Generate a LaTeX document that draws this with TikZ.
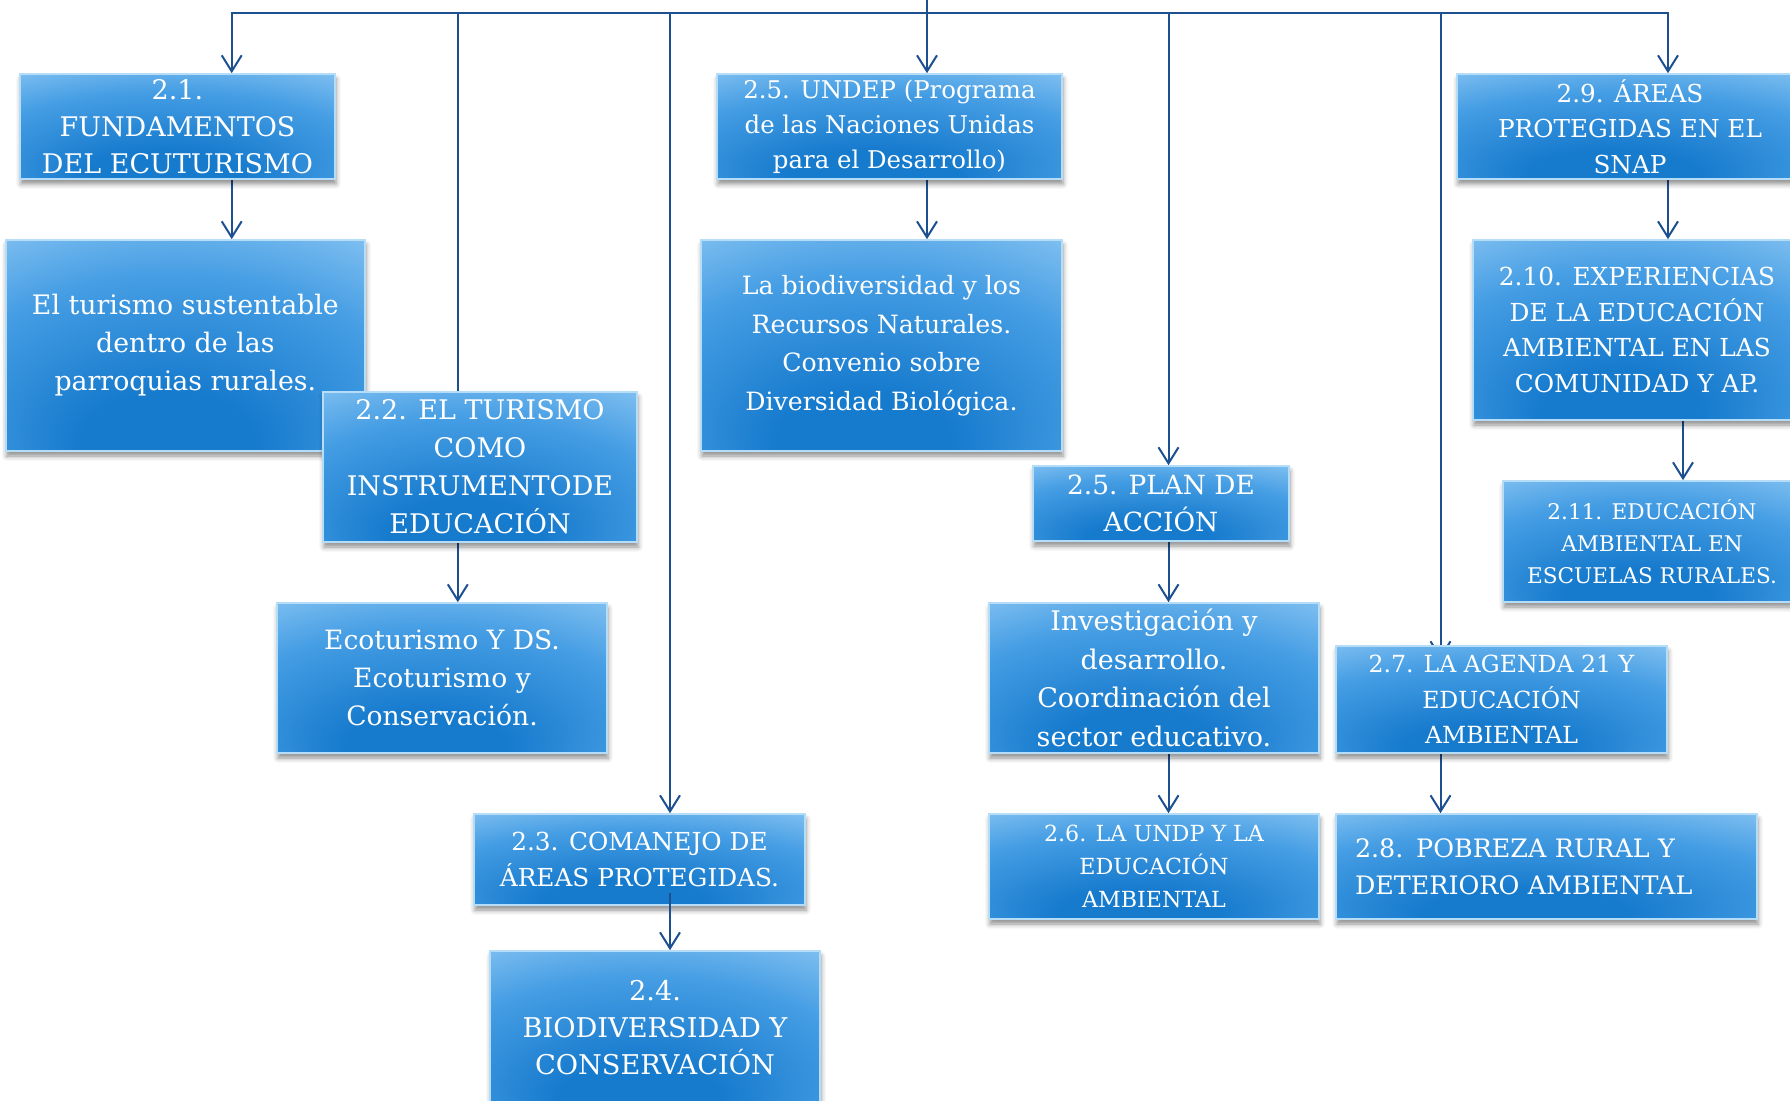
\documentclass[tikz,border=0pt]{standalone}
\usepackage{fontspec}
\setmainfont{DejaVu Serif}
\usetikzlibrary{arrows.meta,shadows.blur,patterns}

\definecolor{bdark}{RGB}{22,122,205}
\definecolor{bmid}{RGB}{70,158,228}
\definecolor{blight}{RGB}{158,209,247}
\definecolor{bedge}{RGB}{182,221,248}
\definecolor{lineblue}{RGB}{28,80,145}
\definecolor{bgcol}{RGB}{250,250,250}
\definecolor{wavecol}{RGB}{234,234,234}

\pgfdeclareradialshading{boxshade}{\pgfpoint{-3bp}{-28bp}}{%
  color(0bp)=(bdark); color(12bp)=(bdark); color(32bp)=(bmid);
  color(51bp)=(blight); color(70bp)=(blight)}

\pgfdeclarepatternformonly{wavebg}{\pgfqpoint{-1pt}{-1pt}}{\pgfqpoint{11.5pt}{7pt}}{\pgfqpoint{10.5pt}{6pt}}{%
  \pgfsetlinewidth{0.7pt}%
  \pgfpathmoveto{\pgfqpoint{0pt}{3pt}}%
  \pgfpathcurveto{\pgfqpoint{1.75pt}{4.6pt}}{\pgfqpoint{3.5pt}{4.6pt}}{\pgfqpoint{5.25pt}{3pt}}%
  \pgfpathcurveto{\pgfqpoint{7pt}{1.4pt}}{\pgfqpoint{8.75pt}{1.4pt}}{\pgfqpoint{10.5pt}{3pt}}%
  \pgfusepath{stroke}}

\pgfdeclarelayer{bg}
\pgfdeclarelayer{lines}
\pgfsetlayers{bg,lines,main}

\newcommand\boxfont[2]{\fontsize{#1}{#2}\selectfont}

\tikzset{
  bx/.style={rectangle, shading=boxshade, draw=bedge, line width=0.8pt,
    text=white, align=center, inner sep=0pt,
    blur shadow={shadow xshift=0.5pt, shadow yshift=-2.5pt,
      shadow blur radius=2.5pt, shadow opacity=45}},
  conn/.style={draw=lineblue, line width=1pt},
  arr/.style={conn, -{Straight Barb[length=8pt,width=10pt]}},
}

\begin{document}
\begin{tikzpicture}[x=0.5pt,y=-0.5pt]
\useasboundingbox (0,0) rectangle (1790,1101);
\begin{pgfonlayer}{bg}
  \fill[bgcol] (0,0) rectangle (1790,1101);
  \fill[pattern=wavebg, pattern color=wavecol] (0,0) rectangle (1790,1101);
  \fill[black!90] (1786,1040) rectangle (1790,1101);
\end{pgfonlayer}

% off-page warm-up node for the blur shadow
\node[bx, minimum width=20pt, minimum height=20pt] (warm) at (-1500,-1500) {};

% nodes
\node[bx, minimum width=157.5pt, minimum height=52.5pt, font=\boxfont{13.5}{18.5}]
  (n21) at (177.5,126.5) {2.1.\\FUNDAMENTOS\\DEL ECUTURISMO};
\node[bx, minimum width=179.7pt, minimum height=105.5pt, font=\boxfont{13.4}{19}]
  (t1) at (185.4,345.5) {El turismo sustentable\\dentro de las\\parroquias rurales.};
\node[bx, minimum width=157pt, minimum height=75pt, font=\boxfont{13.5}{19}]
  (n22) at (480,467) {2.2. EL TURISMO\\COMO\\INSTRUMENTODE\\EDUCACIÓN};
\node[bx, minimum width=165pt, minimum height=75pt, font=\boxfont{13.3}{19}]
  (t2) at (442,678) {Ecoturismo Y DS.\\Ecoturismo y\\Conservación.};
\node[bx, minimum width=165.5pt, minimum height=45.5pt, font=\boxfont{12.4}{17.7}]
  (n23) at (639.5,859.5) {2.3. COMANEJO DE\\ÁREAS PROTEGIDAS.};
\node[bx, minimum width=165pt, minimum height=77pt, font=\boxfont{13.6}{18.5}]
  (n24) at (655,1028) {2.4.\\BIODIVERSIDAD Y\\CONSERVACIÓN};
\node[bx, minimum width=172.5pt, minimum height=52.5pt, font=\boxfont{12.2}{17.5}]
  (n25a) at (889.5,126.5) {2.5. UNDEP (Programa\\de las Naciones Unidas\\para el Desarrollo)};
\node[bx, minimum width=180.5pt, minimum height=105.5pt, font=\boxfont{12.6}{19.25}]
  (t3) at (881.5,345.5) {La biodiversidad y los\\Recursos Naturales.\\Convenio sobre\\Diversidad Biológica.};
\node[bx, minimum width=128pt, minimum height=37.5pt, font=\boxfont{13.2}{18.8}]
  (n25b) at (1161,503.5) {2.5. PLAN DE\\ACCIÓN};
\node[bx, minimum width=165pt, minimum height=75pt, font=\boxfont{13.5}{19.25}]
  (t4) at (1154,678) {Investigación y\\desarrollo.\\Coordinación del\\sector educativo.};
\node[bx, minimum width=165pt, minimum height=52.5pt, font=\boxfont{11.1}{16.3}]
  (n26) at (1154,866.5) {2.6. LA UNDP Y LA\\EDUCACIÓN\\AMBIENTAL};
\node[bx, minimum width=165.5pt, minimum height=53.5pt, font=\boxfont{11.8}{17.7}]
  (n27) at (1501.5,699.5) {2.7. LA AGENDA 21 Y\\EDUCACIÓN\\AMBIENTAL};
\node[bx, minimum width=210.5pt, minimum height=52.5pt, font=\boxfont{12.7}{18.3},
  text width=191.5pt, align=left]
  (n28) at (1546.5,866.5) {2.8. POBREZA RURAL Y\\DETERIORO AMBIENTAL};
\node[bx, minimum width=173pt, minimum height=52.5pt, font=\boxfont{12.35}{17.7}]
  (n29) at (1630,126.5) {2.9. ÁREAS\\PROTEGIDAS EN EL\\SNAP};
\node[bx, minimum width=164pt, minimum height=90pt, font=\boxfont{12.4}{17.7}]
  (n210) at (1637,330) {2.10. EXPERIENCIAS\\DE LA EDUCACIÓN\\AMBIENTAL EN LAS\\COMUNIDAD Y AP.};
\node[bx, minimum width=149pt, minimum height=60.5pt, font=\boxfont{10.8}{16}]
  (n211) at (1652,541.5) {2.11. EDUCACIÓN\\AMBIENTAL EN\\ESCUELAS RURALES.};

% column coordinates on the top bus
\coordinate (root) at (927,-5);
\coordinate (hub) at (927,13);
\coordinate (x1) at (231.7,13);
\coordinate (x2) at (457.8,13);
\coordinate (x3) at (670,13);
\coordinate (x5) at (1168.5,13);
\coordinate (x6) at (1440.5,13);
\coordinate (x7) at (1668,13);
\coordinate (x8) at (1683,13);

\begin{pgfonlayer}{lines}
  \draw[arr] (root) -- (root |- n25a.north);
  \draw[arr] (hub) -| (x1 |- n21.north);
  \draw[arr] (hub) -| (x7 |- n29.north);
  \draw[arr] (x2) -- ([yshift=-14pt]x2 |- n22.north);
  \draw[arr] (x3) -- (x3 |- n23.north);
  \draw[arr] (x5) -- (x5 |- n25b.north);
  \draw[arr] (x6) -- ([yshift=-7pt]x6 |- n27.north);
  \draw[arr] (x1 |- n21.south) -- (x1 |- t1.north);
  \draw[arr] (x2 |- n22.south) -- (x2 |- t2.north);
  \draw[arr] (hub |- n25a.south) -- (hub |- t3.north);
  \draw[arr] (x5 |- n25b.south) -- (x5 |- t4.north);
  \draw[arr] (x5 |- t4.south) -- (x5 |- n26.north);
  \draw[arr] (x6 |- n27.south) -- (x6 |- n28.north);
  \draw[arr] (x7 |- n29.south) -- (x7 |- n210.north);
  \draw[arr] (x8 |- n210.south) -- (x8 |- n211.north);
\end{pgfonlayer}
\draw[arr] ([yshift=6.5pt]x3 |- n23.south) -- (x3 |- n24.north);
\end{tikzpicture}
\end{document}
